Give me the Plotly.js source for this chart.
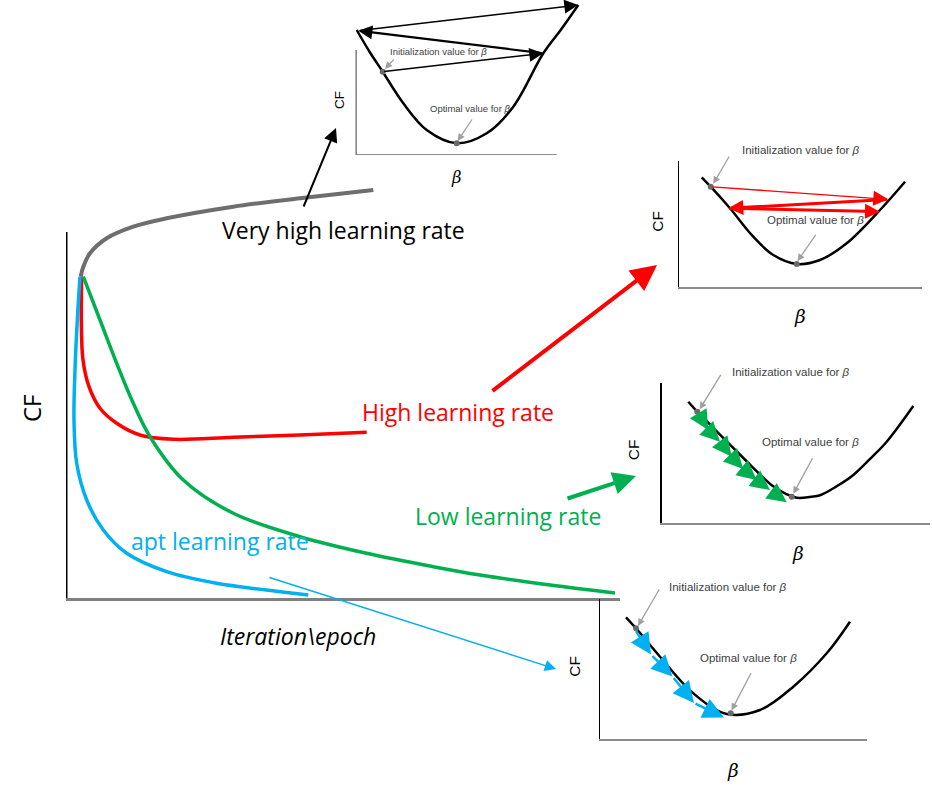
<!DOCTYPE html>
<html><head><meta charset="utf-8">
<script src="https://cdn.plot.ly/plotly-3.0.1.min.js"></script>
<style>html,body{margin:0;padding:0;background:#fff}#chart{width:932px;height:791px}</style>
</head><body><div id="chart"></div>
<script>
// ---------- Main panel: cost function (CF) vs iteration for four learning rates ----------
const veryHighX = [14.7, 17.3, 24, 40.7, 67.3, 100.7, 167.3, 234, 307.3];
const veryHighY = [321.3, 331.3, 344.7, 359.7, 371.3, 379.7, 391.3, 399.7, 408];
const highX = [15.7, 15.3, 17, 23, 34, 50.7, 74, 107.3, 167.3, 234, 300.7];
const highY = [321.3, 278, 238, 211.3, 189.7, 174.7, 163, 158.7, 160.7, 163, 165.7];
const lowX = [17.3, 34, 50.7, 67.3, 84, 117.3, 167.3, 234, 300.7, 367.3, 414, 484, 549];
const lowY = [321.3, 278, 234.7, 194.7, 161.3, 118, 84.7, 61.3, 44.7, 31.3, 23, 13, 5];
const aptX = [14, 11.3, 9, 8, 10.7, 20.7, 37.3, 60.7, 100.7, 150.7, 200.7, 242.3];
const aptY = [321.3, 278, 228, 178, 134.7, 98, 68, 44.7, 26.3, 14.7, 8, 3];
const rateLabels = ["Very high learning rate", "High learning rate", "Low learning rate", "apt learning rate"];

// ---------- Inset 1: very high learning rate (diverging) ----------
const curve1X = [1, 14, 27, 47.6, 71, 101, 131, 157.6, 187.6, 205, 222.6];
const curve1Y = [125, 103, 83.3, 51.7, 25, 11.7, 21.7, 48.3, 101.7, 125, 150];
const steps1X = [27, 187.6, 2.6, 222.6];
const steps1Y = [83.3, 101.7, 124.3, 150];
const dots1X = [27, 101];
const dots1Y = [83.3, 11.7];

// ---------- Inset 2: high learning rate (oscillating) ----------
const curve2X = [22.7, 31.7, 51, 74.3, 94.3, 117.7, 141, 167.7, 201, 226];
const curve2Y = [109.4, 100, 78.4, 50, 31.7, 22.7, 26.7, 43.4, 76.7, 105];
const steps2X = [31.7, 209.3, 49.3, 201];
const steps2Y = [100, 87.4, 78.4, 75];
const dots2X = [31.7, 117.7];
const dots2Y = [100, 22.7];

// ---------- Inset 3: low learning rate (many small steps) ----------
const curve3X = [26.6, 35.6, 50, 70, 90, 110, 125, 135, 150, 158.3, 175, 191.6, 210, 225, 251.6];
const curve3Y = [121.6, 111.6, 97, 77, 57, 38, 29, 25.5, 26.5, 28, 37, 48.3, 66, 81.6, 117.3];
const steps3X = [35.6, 46.6, 58.3, 70, 81.6, 95, 108.3, 125];
const steps3Y = [111.6, 93.3, 81.6, 66.6, 54.3, 43.3, 33.3, 21];
const dots3X = [35.6, 130];
const dots3Y = [111.6, 26.6];

// ---------- Inset 4: apt learning rate ----------
const curve4X = [26, 36, 60, 93.3, 126.7, 160, 193.3, 226.7, 250];
const curve4Y = [121.7, 110.7, 82.3, 45.7, 25, 29, 52.3, 85.7, 117.3];
const steps4X = [35, 51, 72.5, 94, 124];
const steps4Y = [109.5, 84.5, 62.5, 36, 21.5];
const dots4X = [36, 130.7];
const dots4Y = [110.7, 25.7];

const C = {gray: '#6e6e6e', red: '#ff0000', green: '#00b050', blue: '#00b0f0', ptr: '#a0a0a0', dot: '#6a6a6a', axisGray: '#8c8c8c'};
const W = 932, H = 791;
const px = x => x / W, py = y => 1 - y / H;

const traces = [];
function line(x, y, color, width, xa, ya) {
  traces.push({x, y, xaxis: xa, yaxis: ya, mode: 'lines', type: 'scatter', hoverinfo: 'skip',
    line: {color, width, shape: 'spline', smoothing: 1}, showlegend: false});
}
function dots(x, y, xa, ya) {
  traces.push({x, y, xaxis: xa, yaxis: ya, mode: 'markers', type: 'scatter', hoverinfo: 'skip',
    marker: {color: C.dot, size: 6}, showlegend: false, cliponaxis: false});
}
line(veryHighX, veryHighY, C.gray, 4, 'x', 'y');
line(highX, highY, C.red, 3.5, 'x', 'y');
line(lowX, lowY, C.green, 3.5, 'x', 'y');
line(aptX, aptY, C.blue, 3.5, 'x', 'y');
line(curve1X, curve1Y, '#000', 2.5, 'x2', 'y2');
line(curve2X, curve2Y, '#000', 2.5, 'x3', 'y3');
line(curve3X, curve3Y, '#000', 2.5, 'x4', 'y4');
line(curve4X, curve4Y, '#000', 2.5, 'x5', 'y5');
dots(dots1X, dots1Y, 'x2', 'y2');
dots(dots2X, dots2Y, 'x3', 'y3');
dots(dots3X, dots3Y, 'x4', 'y4');
dots(dots4X, dots4Y, 'x5', 'y5');

const ann = [];
function dataArrow(xr, yr, x0, y0, x1, y1, color, width, size) {
  ann.push({xref: xr, yref: yr, axref: xr, ayref: yr, x: x1, y: y1, ax: x0, ay: y0, text: '',
    showarrow: true, arrowhead: 2, arrowsize: size, arrowwidth: width, arrowcolor: color, standoff: 0});
}
function steps(xs, ys, xr, yr, color, widths, size) {
  for (let i = 0; i < xs.length - 1; i++) {
    const w = Array.isArray(widths) ? widths[i] : widths;
    dataArrow(xr, yr, xs[i], ys[i], xs[i + 1], ys[i + 1], color, w, size / w);
  }
}
steps(steps1X, steps1Y, 'x2', 'y2', '#000', [1.5, 2.2, 1.5], 2.8);
steps(steps2X, steps2Y, 'x3', 'y3', C.red, [1.3, 3, 3], 3.0);
steps(steps3X, steps3Y, 'x4', 'y4', C.green, 2, 3.9);
steps(steps4X, steps4Y, 'x5', 'y5', C.blue, 2.5, 4.2);

// arrows linking the main curves to their insets (head px, tail px)
function paperArrow(hx, hy, tx, ty, color, width, size) {
  ann.push({xref: 'paper', yref: 'paper', x: px(hx), y: py(hy), ax: tx - hx, ay: ty - hy, text: '',
    showarrow: true, arrowhead: 2, arrowsize: size, arrowwidth: width, arrowcolor: color, standoff: 0});
}
paperArrow(336, 128, 303, 208, '#000', 2, 1.4);
paperArrow(657, 265, 491, 392, C.red, 4, 1.3);
paperArrow(636, 476, 566, 499, C.green, 4, 1.15);
paperArrow(556, 669, 268, 577, C.blue, 1.5, 1.5);

// text helpers (position in px of the page)
const mainFont = '"Open Sans", Lato, sans-serif';
function ptxt(x, y, text, size, color, family, opts) {
  ann.push(Object.assign({xref: 'paper', yref: 'paper', x: px(x), y: py(y), text, showarrow: false,
    xanchor: 'center', yanchor: 'middle', font: {family, size, color}}, opts || {}));
}
ptxt(343, 230, rateLabels[0], 23, '#000', mainFont);
ptxt(458, 412, rateLabels[1], 23, C.red, mainFont);
ptxt(508, 516, rateLabels[2], 23, C.green, mainFont);
ptxt(220, 541, rateLabels[3], 23, C.blue, mainFont);
ptxt(31, 408, 'CF', 24, '#000', mainFont, {textangle: -90});
ptxt(298, 636, '<i>Iteration\\epoch</i>', 23, '#000', mainFont);

const smallFont = '"Liberation Sans", Arial, sans-serif';
// o = inset origin px; positions given as offsets (px) from the inset origin
function insetTexts(o, xr, yr, cf, b, ini, opt, fs, iptr, optr) {
  const X = d => o[0] + d, Y = d => o[1] - d;
  ptxt(X(cf[0]), Y(cf[1]), 'CF', fs + 4, '#000', smallFont, {textangle: -90});
  ptxt(X(b[0]), Y(b[1]), '<i>β</i>', fs + 7, '#000', 'DejaVu Serif, serif');
  ptxt(X(ini[0]), Y(ini[1]), 'Initialization value for <i>β</i>', fs, '#404040', smallFont, {xanchor: 'left'});
  ptxt(X(opt[0]), Y(opt[1]), 'Optimal value for <i>β</i>', fs, '#404040', smallFont, {xanchor: 'left'});
  dataArrow(xr, yr, iptr[0], iptr[1], iptr[2], iptr[3], C.ptr, 1.3, 1.1);
  dataArrow(xr, yr, optr[0], optr[1], optr[2], optr[3], C.ptr, 1.3, 1.1);
}
insetTexts([355.7, 155], 'x2', 'y2', [-15.7, 55], [101, -23], [32, 103.3], [72, 46], 9.5, [39.3, 97, 29.3, 86], [117.3, 37, 102, 14]);
insetTexts([679, 286.7], 'x3', 'y3', [-21, 65], [121, -30], [61, 136.7], [86, 66.7], 11.5, [51, 131.7, 34.3, 103], [137.7, 53.4, 118.5, 25.5]);
insetTexts([661.7, 523.3], 'x4', 'y4', [-28.4, 73.3], [136.6, -30], [68.3, 151.6], [98.3, 81.6], 11.5, [60, 150, 38, 114], [151.6, 66.6, 131.6, 29.5]);
insetTexts([600, 739], 'x5', 'y5', [-25, 72.3], [133.3, -31], [67, 151.7], [98, 80.7], 11.5, [60, 151, 38, 113], [151.7, 67.3, 131.5, 28.5]);

// axes
function ax(domain, range, extra) {
  return Object.assign({domain, range, showgrid: false, zeroline: false, showticklabels: false,
    ticks: '', fixedrange: true, showline: false}, extra || {});
}
const layout = {
  width: W, height: H, margin: {l: 0, r: 0, t: 0, b: 0},
  paper_bgcolor: '#fff', plot_bgcolor: 'rgba(0,0,0,0)', showlegend: false,
  xaxis: ax([px(66), px(620)], [0, 554], {anchor: 'y', showline: true, linecolor: '#808080', linewidth: 3}),
  yaxis: ax([py(598), py(180)], [0, 418], {anchor: 'x'}),
  xaxis2: ax([px(355.7), px(590)], [0, 234.3], {anchor: 'y2'}),
  yaxis2: ax([py(155), 1], [0, 155], {anchor: 'x2'}),
  xaxis3: ax([px(679), px(921.7)], [0, 242.7], {anchor: 'y3', showline: true, linecolor: C.axisGray, linewidth: 2}),
  yaxis3: ax([py(286.7), py(160.7)], [0, 126], {anchor: 'x3', showline: true, linecolor: '#000', linewidth: 1.5}),
  xaxis4: ax([px(661.7), px(930)], [0, 268.3], {anchor: 'y4', showline: true, linecolor: C.axisGray, linewidth: 2}),
  yaxis4: ax([py(523.3), py(383.3)], [0, 140], {anchor: 'x4', showline: true, linecolor: '#000', linewidth: 1.5}),
  xaxis5: ax([px(600), px(866.7)], [0, 266.7], {anchor: 'y5', showline: true, linecolor: C.axisGray, linewidth: 2}),
  yaxis5: ax([py(739), py(599.3)], [0, 139.7], {anchor: 'x5', showline: true, linecolor: '#000', linewidth: 1.5}),
  shapes: [
    {type: 'line', xref: 'x', yref: 'y', x0: 0, x1: 0, y0: 0, y1: 366, line: {color: '#000', width: 3}},
    {type: 'line', xref: 'x2', yref: 'y2', x0: 0, x1: 0, y0: 0, y1: 105, line: {color: '#000', width: 1.5}},
    {type: 'line', xref: 'x2', yref: 'y2', x0: 0, x1: 201, y0: 0, y1: 0, line: {color: C.axisGray, width: 2}}
  ],
  annotations: ann
};
Plotly.newPlot('chart', traces, layout, {staticPlot: true, displayModeBar: false});
</script></body></html>
